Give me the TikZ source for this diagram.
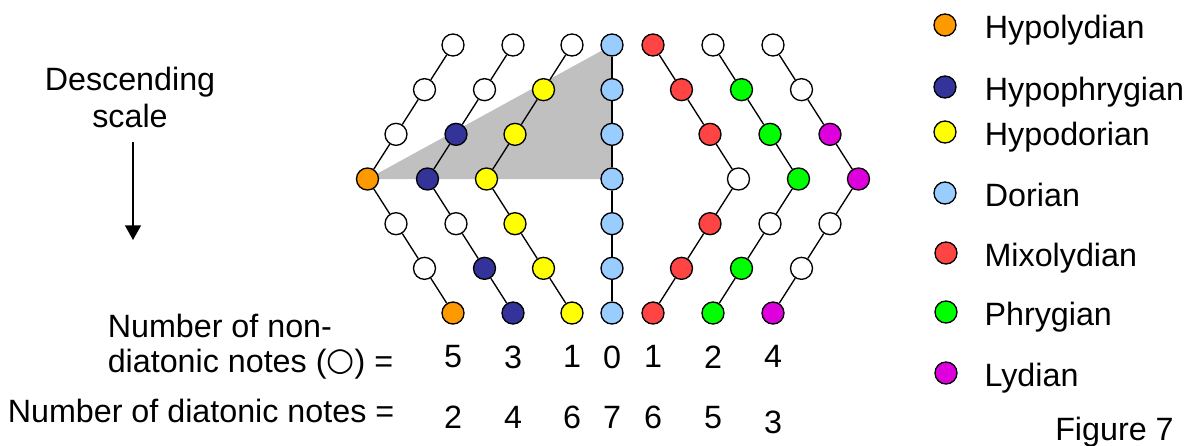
\documentclass[tikz,border=0pt]{standalone}
\usepackage{fontspec}
\setmainfont{Liberation Sans}
\newfontfamily\symfont{DejaVu Sans}
\usepackage{xcolor}
\usepackage{tikz}
\usetikzlibrary{positioning, backgrounds, arrows.meta}
\definecolor{hypolydian}{RGB}{255, 153, 0}
\definecolor{hypophrygian}{RGB}{51, 51, 153}
\definecolor{hypodorian}{RGB}{255, 255, 0}
\definecolor{dorian}{RGB}{153, 204, 255}
\definecolor{mixolydian}{RGB}{255, 68, 68}
\definecolor{phrygian}{RGB}{0, 255, 0}
\definecolor{lydian}{RGB}{221, 0, 221}
\definecolor{trigrey}{RGB}{192, 192, 192}

\begin{document}
\begin{tikzpicture}[x=0.75pt, y=-0.75pt, every node/.style={font=\fontsize{24.2}{28}\selectfont}]
    \useasboundingbox (0,0) rectangle (1190,446);

    % Styles
    \tikzstyle{note} = [circle, draw=black, line width=1pt, minimum size=16.5pt, inner sep=0pt]
    \tikzstyle{stem} = [draw=black, line width=1pt]
    \tikzstyle{num} = [inner sep=0pt]
    \tikzstyle{modelabel} = [inner sep=0pt, text height=17.3pt, text depth=0pt, yshift=-1.5pt]

    % Notes of the seven modes (top row first), each joined to the one above
    \foreach \col/\topx/\dir/\fills in {
        hl/453/-1/{white,white,white,hypolydian,white,white,hypolydian},
        hp/513/-1/{white,white,hypophrygian,hypophrygian,white,hypophrygian,hypophrygian},
        hd/572/-1/{white,hypodorian,hypodorian,hypodorian,hypodorian,hypodorian,hypodorian},
        do/612/0/{dorian,dorian,dorian,dorian,dorian,dorian,dorian},
        mx/653/1/{mixolydian,mixolydian,mixolydian,white,mixolydian,mixolydian,mixolydian},
        ph/713/1/{white,phrygian,phrygian,phrygian,white,phrygian,phrygian},
        ly/773/1/{white,white,lydian,lydian,white,white,lydian}}
    {
        \foreach \f [count=\r] in \fills {
            \pgfmathsetmacro{\nx}{\topx+\dir*28.5*(3-abs(\r-4))}
            \pgfmathsetmacro{\ny}{45+44.67*(\r-1)}
            \node (\col-\r) [note, fill=\f] at (\nx,\ny) {};
            \ifnum\r>1
                \pgfmathtruncatemacro{\prev}{\r-1}
                \path[stem] (\col-\prev) -- (\col-\r);
            \fi
        }
    }

    \begin{scope}[on background layer]
        \fill[trigrey] (hl-4.center) -- (do-1.center) -- (do-4.center) -- cycle;
    \end{scope}

    % Counts
    \foreach \col/\nd/\dd in {hl/5/2, hp/3/4, hd/1/6, do/0/7, mx/1/6, ph/2/5} {
        \node (non-\col) [num, below=15.6pt of \col-7] {\nd};
        \node (dia-\col) [num, below=28pt of non-\col] {\dd};
    }
    \node (non-ly) [num, below=15.6pt of ly-7] {4};
    \node (dia-ly) [num, below=31.5pt of non-ly] {3};

    \node (nonlabel) [num, align=left, anchor=north west, font=\fontsize{24.2}{26.25}\selectfont] at (107.5,314) {Number of non-\\diatonic notes ({\symfont\raisebox{1.5pt}{○}}) =};
    \node (dialabel) [num, anchor=base west] at (7.5,422) {Number of diatonic notes =};

    % Descending scale
    \node (desc) [num, align=center, anchor=north, font=\fontsize{24.2}{27.75}\selectfont] at (130,67) {Descending\\scale};
    \coordinate (arrtop) at (133,142);
    \coordinate (arrbot) at (133,240);
    \draw[-{Triangle[width=12pt, length=11pt]}, line width=1pt] (arrtop) -- (arrbot);

    % Legend
    \node (lg-hl) [note, fill=hypolydian] at (945,25) {};
    \node (lg-hp) [note, fill=hypophrygian] at (945,87) {};
    \node (lg-hd) [note, fill=hypodorian] at (945,132) {};
    \node (lg-do) [note, fill=dorian] at (945,193) {};
    \node (lg-mx) [note, fill=mixolydian] at (946,253) {};
    \node (lg-ph) [note, fill=phrygian] at (946,312) {};
    \node (lg-ly) [note, fill=lydian] at (946,373) {};

    \node (lb-hl) [modelabel, right=21pt of lg-hl] {Hypolydian};
    \node (lb-hp) [modelabel, right=21pt of lg-hp] {Hypophrygian};
    \node (lb-hd) [modelabel, right=21pt of lg-hd] {Hypodorian};
    \node (lb-do) [modelabel, right=21pt of lg-do] {Dorian};
    \node (lb-mx) [modelabel, right=20pt of lg-mx] {Mixolydian};
    \node (lb-ph) [modelabel, right=20pt of lg-ph] {Phrygian};
    \node (lb-ly) [modelabel, right=20pt of lg-ly] {Lydian};

    \node (fig) [num, anchor=base west] at (1055,440) {Figure 7};
\end{tikzpicture}
\end{document}
